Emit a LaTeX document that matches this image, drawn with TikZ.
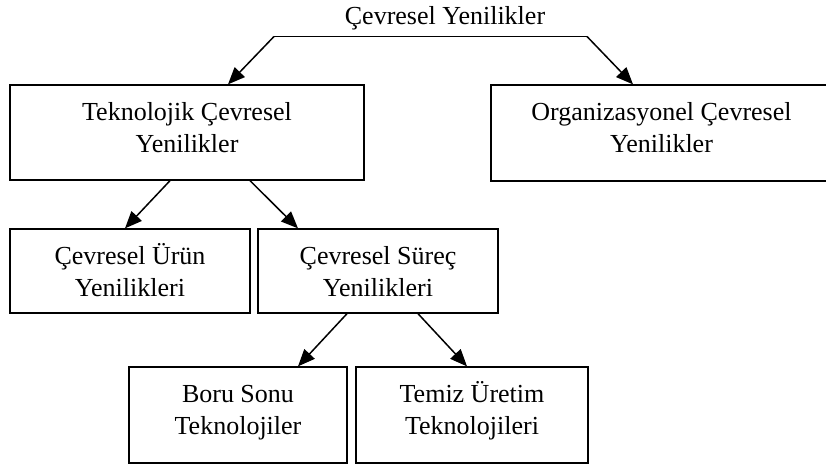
\documentclass[tikz,border=0pt]{standalone}
\usepackage{fontspec}
\setmainfont{Liberation Serif}
\usetikzlibrary{arrows.meta}
\newcommand{\boxtext}[3]{\parbox[c][#2][t]{#1}{\centering\fontsize{26}{32}\selectfont\rule{0pt}{35pt}#3\par}}
\begin{document}
\begin{tikzpicture}[x=1pt,y=-1pt,
  box/.style={draw,line width=1.3pt,inner sep=0pt},
  lbl/.style={inner sep=0pt,font=\fontsize{26}{32}\selectfont},
  arr/.style={line width=1.5pt,-{Triangle[length=17pt,width=14pt]}}]
\useasboundingbox (0,0) rectangle (826,466);
\node[lbl,anchor=base] (top) at (445,24) {Çevresel Yenilikler};
\node[box] (T) at (187,132.5) {\boxtext{354pt}{95pt}{Teknolojik Çevresel\\Yenilikler}};
\node[box] (O) at (661.5,133) {\boxtext{341pt}{96pt}{Organizasyonel Çevresel\\Yenilikler}};
\node[box] (U) at (130,271) {\boxtext{240pt}{84pt}{Çevresel Ürün\\Yenilikleri}};
\node[box] (S) at (378,271) {\boxtext{240pt}{84pt}{Çevresel Süreç\\Yenilikleri}};
\node[box] (B) at (238,415) {\boxtext{218pt}{96pt}{Boru Sonu\\Teknolojiler}};
\node[box] (M) at (472,415) {\boxtext{232pt}{96pt}{Temiz Üretim\\Teknolojileri}};
\coordinate (barL) at (274,36.5);
\coordinate (barR) at (587,36.5);
\draw[line width=1.5pt] (barL) -- (barR);
\draw[arr] (barL) -- ([xshift=41pt]T.north);
\draw[arr] (barR) -- ([xshift=-28.5pt]O.north);
\draw[arr] ([xshift=-17pt]T.south) -- ([xshift=-5pt]U.north);
\draw[arr] ([xshift=63pt]T.south) -- ([xshift=-80pt]S.north);
\draw[arr] ([xshift=-31pt]S.south) -- ([xshift=60pt]B.north);
\draw[arr] ([xshift=40pt]S.south) -- ([xshift=-5pt]M.north);
\end{tikzpicture}
\end{document}
